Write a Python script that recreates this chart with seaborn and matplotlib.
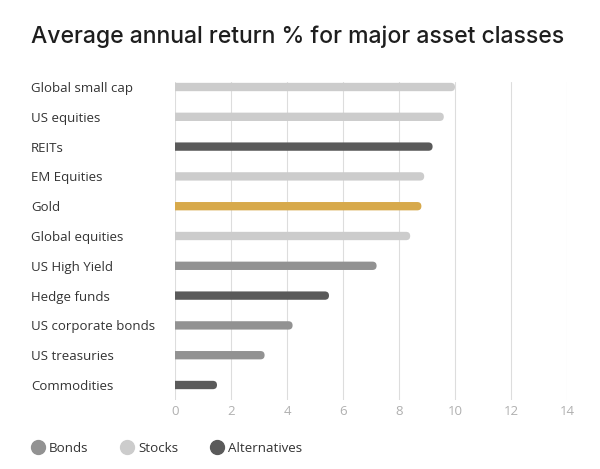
import matplotlib
matplotlib.use("Agg")
import matplotlib.pyplot as plt
from matplotlib.lines import Line2D
from matplotlib.patches import FancyBboxPatch
import seaborn as sns
import pandas as pd

categories = ["Global small cap", "US equities", "REITs", "EM Equities", "Gold",
              "Global equities", "US High Yield", "Hedge funds", "US corporate bonds",
              "US treasuries", "Commodities"]
returns = [10.0, 9.6, 9.2, 8.9, 8.8, 8.4, 7.2, 5.5, 4.2, 3.2, 1.5]
groups = ["Stocks", "Stocks", "Alternatives", "Stocks", "Gold",
          "Stocks", "Bonds", "Alternatives", "Bonds", "Bonds", "Alternatives"]
x_ticks = [0, 2, 4, 6, 8, 10, 12, 14]
legend_groups = ["Bonds", "Stocks", "Alternatives"]
title = "Average annual return % for major asset classes"

palette = {"Bonds": "#929292", "Stocks": "#cccccc", "Alternatives": "#5a5a5a", "Gold": "#d7a94b"}

df = pd.DataFrame({"category": categories, "value": returns, "group": groups})

sns.set_theme(style="white")
plt.rcParams["font.family"] = ["Open Sans", "DejaVu Sans"]

W, H = 600, 469
fig = plt.figure(figsize=(W / 100, H / 100), dpi=100)
ax_left, ax_right, ax_top, ax_bot = 175, 567, 82, 400
ax = fig.add_axes([ax_left / W, 1 - ax_bot / H, (ax_right - ax_left) / W, (ax_bot - ax_top) / H])

sns.barplot(data=df, x="value", y="category", hue="group", palette=palette,
            dodge=False, width=0.28, legend=False, ax=ax, order=categories,
            saturation=1)

ax.set_xlim(0, 14)
px_per_cat = 29.8
ax.set_ylim(10 + 15 / px_per_cat, -5 / px_per_cat)

# rounded-end bars: replace each seaborn bar with a rounded box of the same extent
px_per_x = (ax_right - ax_left) / 14
aspect = px_per_x / px_per_cat
for p in list(ax.patches):
    x0, y0 = p.get_x(), p.get_y()
    w, h = p.get_width(), p.get_height()
    rx = min(h / aspect / 2, w / 2) * 0.999
    box = FancyBboxPatch((x0 - rx, y0), w + rx, h,
                         boxstyle=f"round,pad=0,rounding_size={rx}",
                         mutation_aspect=aspect,
                         facecolor=p.get_facecolor(), edgecolor="none",
                         clip_on=True, zorder=p.get_zorder())
    p.set_visible(False)
    ax.add_patch(box)

ax.set_xticks(x_ticks)
ax.set_xticklabels([str(t) for t in x_ticks], color="#b0b0b0", fontsize=9.5)
ax.xaxis.grid(True, color="#dddddd", linewidth=0.8)
ax.set_axisbelow(True)
ax.set_xlabel("")
ax.set_ylabel("")
for s in ax.spines.values():
    s.set_visible(False)
ax.tick_params(axis="x", length=0, pad=3.5)
ax.tick_params(axis="y", length=0, pad=144 * 0.72)
for lbl in ax.get_yticklabels():
    lbl.set_horizontalalignment("left")
    lbl.set_color("#333333")
    lbl.set_fontsize(9.5)

fig.text(31 / W, 1 - 43 / H, title, fontsize=16.55, color="#1e1e1e", weight="medium",
         ha="left", va="baseline", family=["Inter", "DejaVu Sans"])

handles = [Line2D([0], [0], marker="o", linestyle="", markersize=10,
                  markerfacecolor=palette[g], markeredgecolor=palette[g], label=g)
           for g in legend_groups]
fig.legend(handles=handles, loc="center left", bbox_to_anchor=(31 / W, 1 - 448.5 / H),
           ncol=3, frameon=False, fontsize=9.6, handletextpad=0.33, columnspacing=2.4,
           labelcolor="#333333", borderaxespad=0, borderpad=0, handlelength=1.0)

fig.savefig("out.png", dpi=100)
